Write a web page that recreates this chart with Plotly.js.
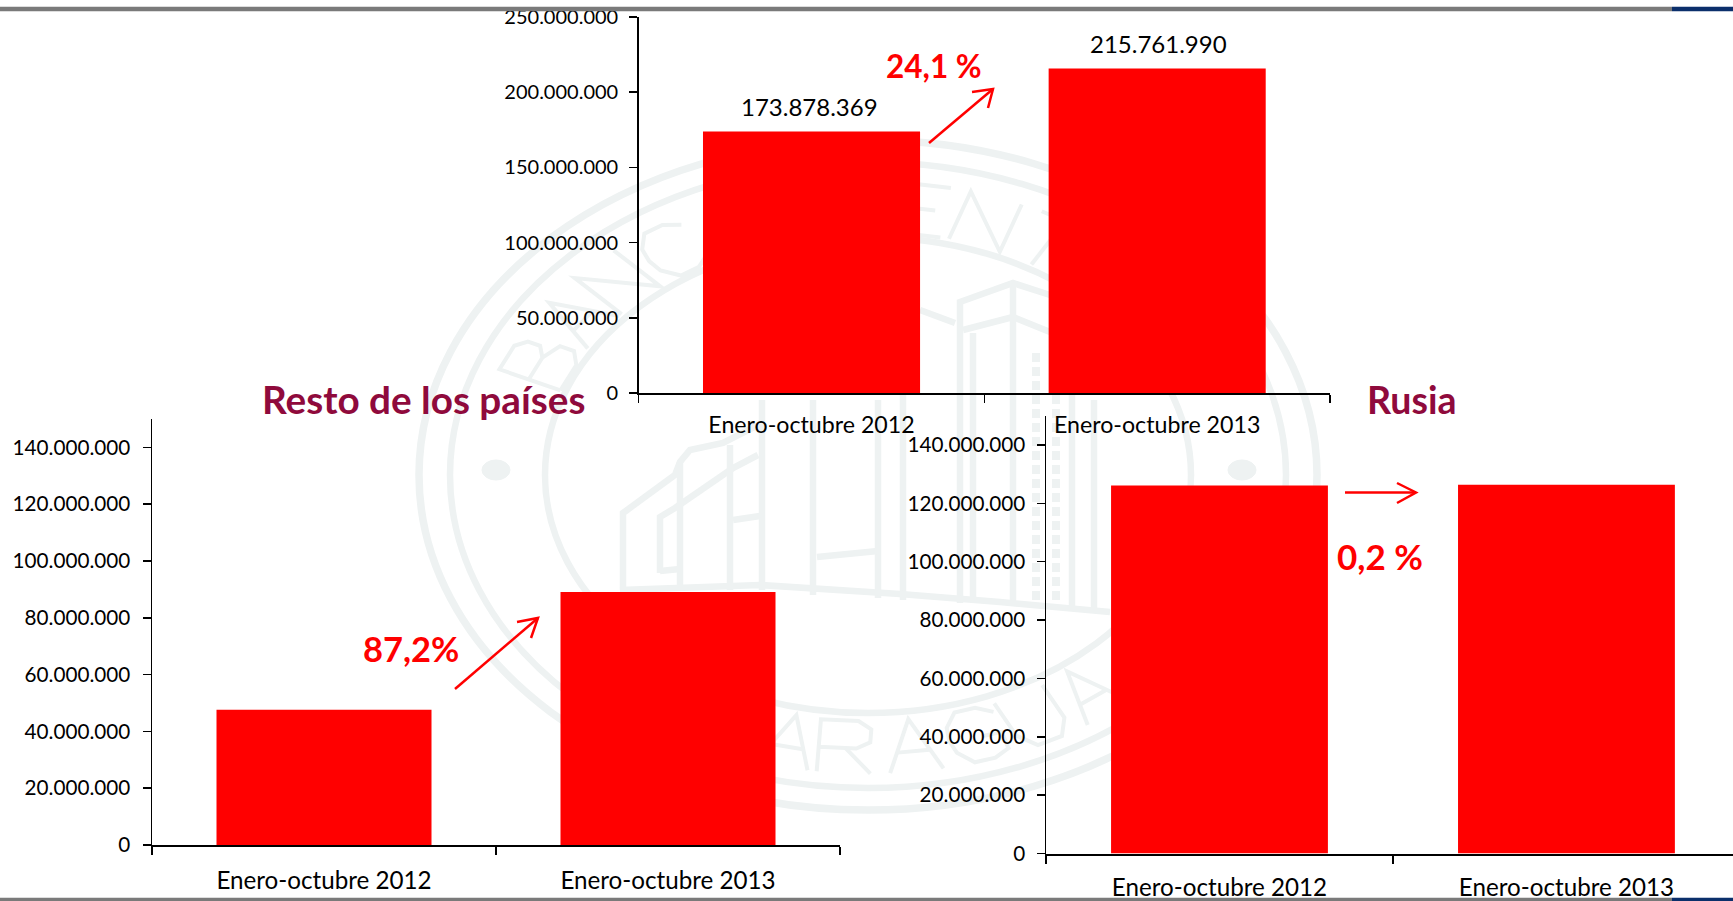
<!DOCTYPE html>
<html><head><meta charset="utf-8">
<script src="https://cdn.plot.ly/plotly-3.0.1.min.js"></script>
<style>html,body{margin:0;padding:0;background:#fff;overflow:hidden}#c{width:1733px;height:901px}</style>
</head><body><div id="c"></div>
<script>
const categories = ["Enero-octubre 2012", "Enero-octubre 2013"];
const totalValues = [173878369, 215761990];
const restoValues = [47600000, 89100000];
const rusiaValues = [126100000, 126350000];
const totalTicks = [0, 50000000, 100000000, 150000000, 200000000, 250000000];
const panelTicks = [0, 20000000, 40000000, 60000000, 80000000, 100000000, 120000000, 140000000];
const titles = ["Resto de los países", "Rusia"];
const changes = ["24,1 %", "87,2%", "0,2 %"];

const W = 1733, H = 901, FONT = "Lato, 'Noto Sans', sans-serif";
const RED = "#ff0000", MAROON = "#8f0a3c", WM = "#eef2f2";
const px = x => x / W, py = y => 1 - y / H;
const domX = (a, b) => [px(a), px(b)];
const domY = (top, bottom) => [py(bottom), py(top)];
const fmt = v => String(v).replace(/\B(?=(\d{3})+$)/g, ".");

function xAxis(anchor, dom, range, lw, standoff, size) {
  return {domain: dom, anchor, type: "category", range, tickson: "boundaries", ticks: "outside", ticklen: 8,
    tickwidth: lw, tickcolor: "#000", linecolor: "#000", linewidth: lw, showline: true, showgrid: false, zeroline: false,
    tickfont: {family: FONT, size, color: "#000"}, ticklabelstandoff: standoff, automargin: false};
}
function yAxis(anchor, dom, range, vals, lw, size, standoff) {
  return {domain: dom, anchor, range, tickmode: "array", tickvals: vals, ticktext: vals.map(fmt), ticks: "outside", ticklen: 8,
    tickwidth: lw, tickcolor: "#000", linecolor: "#000", linewidth: lw, showline: true, showgrid: false, zeroline: false,
    tickfont: {family: FONT, size, color: "#000"}, ticklabelstandoff: standoff, automargin: false};
}
function bars(values, xa, ya, width) {
  return {type: "bar", x: categories, y: values, xaxis: xa, yaxis: ya, width,
    marker: {color: RED, line: {width: 0}}, hoverinfo: "skip", showlegend: false};
}

/* decorative seal behind the charts */
const CX = 868, CY = 475, SX = 1.345;
const shapes = [];
function ring(rx, ry, w, cx = CX, cy = CY, fill) {
  shapes.push({type: "circle", xref: "paper", yref: "paper", layer: "below",
    x0: px(cx - rx), x1: px(cx + rx), y0: py(cy + ry), y1: py(cy - ry),
    line: {color: WM, width: w}, fillcolor: fill || "rgba(0,0,0,0)"});
}
function poly(pts, w, color, dash, layer) {
  const d = pts.map((p, i) => (i ? "L" : "M") + px(p[0]).toFixed(5) + "," + py(p[1]).toFixed(5)).join(" ");
  const line = {color: color || WM, width: w};
  if (dash) line.dash = dash;
  shapes.push({type: "path", xref: "paper", yref: "paper", layer: layer || "below", path: d, line});
}
ring(449, 335, 7.5); ring(418, 313, 6.5); ring(323, 238, 6.5);
ring(14, 10, 1, 496, 470, WM); ring(14, 10, 1, 1242, 470, WM);

const glyphs = {
  A: [[[0,0],[.5,1],[1,0]], [[.2,.38],[.8,.38]]],
  B: [[[0,0],[0,1],[.65,1],[.85,.85],[.85,.65],[.6,.52],[0,.52]], [[.6,.52],[1,.38],[1,.15],[.7,0],[0,0]]],
  C: [[[1,.85],[.7,1],[.3,1],[.05,.75],[0,.5],[.05,.25],[.3,0],[.7,0],[1,.15]]],
  E: [[[.9,1],[0,1],[0,0],[.9,0]], [[0,.52],[.7,.52]]],
  G: [[[1,.85],[.7,1],[.3,1],[.05,.75],[0,.5],[.05,.25],[.3,0],[.7,0],[1,.12],[1,.45],[.6,.45]]],
  L: [[[0,1],[0,0],[.9,0]]],
  N: [[[0,0],[0,1],[1,0],[1,1]]],
  R: [[[0,0],[0,1],[.7,1],[.95,.85],[.95,.6],[.7,.47],[0,.47]], [[.5,.47],[1,0]]],
  T: [[[0,1],[1,1]], [[.5,1],[.5,0]]],
  U: [[[0,1],[0,.3],[.25,0],[.75,0],[1,.3],[1,1]]]
};
function letter(ch, deg, rBase, rTop, bottomArc) {
  const t = deg * Math.PI / 180, sz = 40;
  (glyphs[ch] || []).forEach(stroke => {
    poly(stroke.map(([u, v]) => {
      const tan = (u - .5) * sz, r = rBase + v * (rTop - rBase);
      const cxx = Math.sin(t) * r + Math.cos(t) * tan;
      const cyy = bottomArc ? Math.cos(t) * r - Math.sin(t) * tan : -Math.cos(t) * r + Math.sin(t) * tan;
      return [CX + SX * cxx, CY + cyy];
    }), 4);
  });
}
[["B",-65],["A",-54],["N",-44],["C",-33],["E",9],["N",19],["T",30],["R",41],["A",52],["L",63]]
  .forEach(([c, a]) => letter(c, a, 243, 293, false));
[["A",-12.5],["R",-3.5],["A",7],["G",17],["U",27],["A",37]]
  .forEach(([c, a]) => letter(c, a, 298, 246, true));

/* building outline */
[
  [[623,590],[623,513],[675,475],[680,462],[690,450],[723,443],[758,425]],
  [[660,573],[660,517],[675,508],[733,468],[758,455]],
  [[660,571],[680,569]],
  [[680,590],[680,462]], [[730,590],[730,445]], [[762,590],[762,400]],
  [[813,595],[813,400]], [[878,598],[878,400]], [[817,557],[878,551]],
  [[733,520],[760,516]], [[903,600],[903,330]], [[920,310],[955,323]],
  [[960,603],[960,302],[1013,283],[1050,295]], [[973,603],[973,333]],
  [[963,330],[1013,317],[1050,332]], [[1013,606],[1013,283]],
  [[620,590],[760,585],[900,594],[1000,602],[1110,612]],
  [[1072,610],[1072,360]], [[1094,612],[1094,400]]
].forEach(p => poly(p, 6.5));
poly([[1036,353],[1036,600]], 8, WM, "9px,5px");
poly([[1056,353],[1056,600]], 8, WM, "9px,5px");

/* slide rules */
poly([[0,9],[1672,9]], 4.5, "#7a7a7a", null, "above");
poly([[1672,9],[W,9]], 4.5, "#0b2f6b", null, "above");
poly([[0,899.5],[1672,899.5]], 3.5, "#7a7a7a", null, "above");
poly([[1672,899.5],[W,899.5]], 3.5, "#0b2f6b", null, "above");

/* change arrows */
function arrow(a, b, c, d) {
  poly([a, b], 2.5, RED, null, "above");
  poly([c, b, d], 2.5, RED, null, "above");
}
arrow([929,143],[993,89],[972,92],[988,108]);
arrow([455,689],[538,618],[517,622],[531,638]);
arrow([1345,492.5],[1416,492.5],[1397,483],[1397,503]);

function note(text, x, y, size, color, weight) {
  return {xref: "paper", yref: "paper", x: px(x), y: py(y), xanchor: "center", yanchor: "middle", showarrow: false,
    text, font: {family: FONT, size, color, weight: weight || 400}};
}
const annotations = [
  note(titles[0], 424, 399, 38.7, MAROON, 700),
  note(titles[1], 1412, 399, 37.5, MAROON, 700),
  note(changes[0], 934, 66, 31.5, RED, 700),
  note(changes[1], 411, 648, 34.5, RED, 700),
  note(changes[2], 1380, 556, 35, RED, 700)
];
const labelShift = [-2, 1];
totalValues.forEach((v, i) => annotations.push({xref: "x", yref: "y", x: categories[i], y: v, xshift: labelShift[i], yshift: 25,
  xanchor: "center", yanchor: "middle", showarrow: false, text: fmt(v),
  font: {family: FONT, size: 24, color: "#000"}}));

const data = [bars(totalValues, "x", "y", 0.628), bars(restoValues, "x2", "y2", 0.625), bars(rusiaValues, "x3", "y3", 0.625)];
const layout = {
  width: W, height: H, margin: {l: 0, r: 0, t: 0, b: 0}, paper_bgcolor: "#fff", plot_bgcolor: "rgba(0,0,0,0)",
  showlegend: false, shapes, annotations,
  xaxis:  xAxis("y",  domX(638.7, 1330), [-0.5, 1.5], 1.5, 11, 23.2),
  yaxis:  yAxis("x",  domY(17, 393), [0, 250000000], totalTicks, 1.5, 20, 7),
  xaxis2: xAxis("y2", domX(152, 840), [-0.5, 1.5], 2, 13, 24.2),
  yaxis2: yAxis("x2", domY(419, 845), [0, 150000000], panelTicks, 1.5, 20.7, 8),
  xaxis3: xAxis("y3", domX(1046, W), [-0.5, 1.48], 2, 11, 24.2),
  yaxis3: yAxis("x3", domY(415.7, 853.6), [0, 150000000], panelTicks, 1.5, 20.7, 7)
};
Plotly.newPlot("c", data, layout, {displayModeBar: false, staticPlot: true});
</script></body></html>
